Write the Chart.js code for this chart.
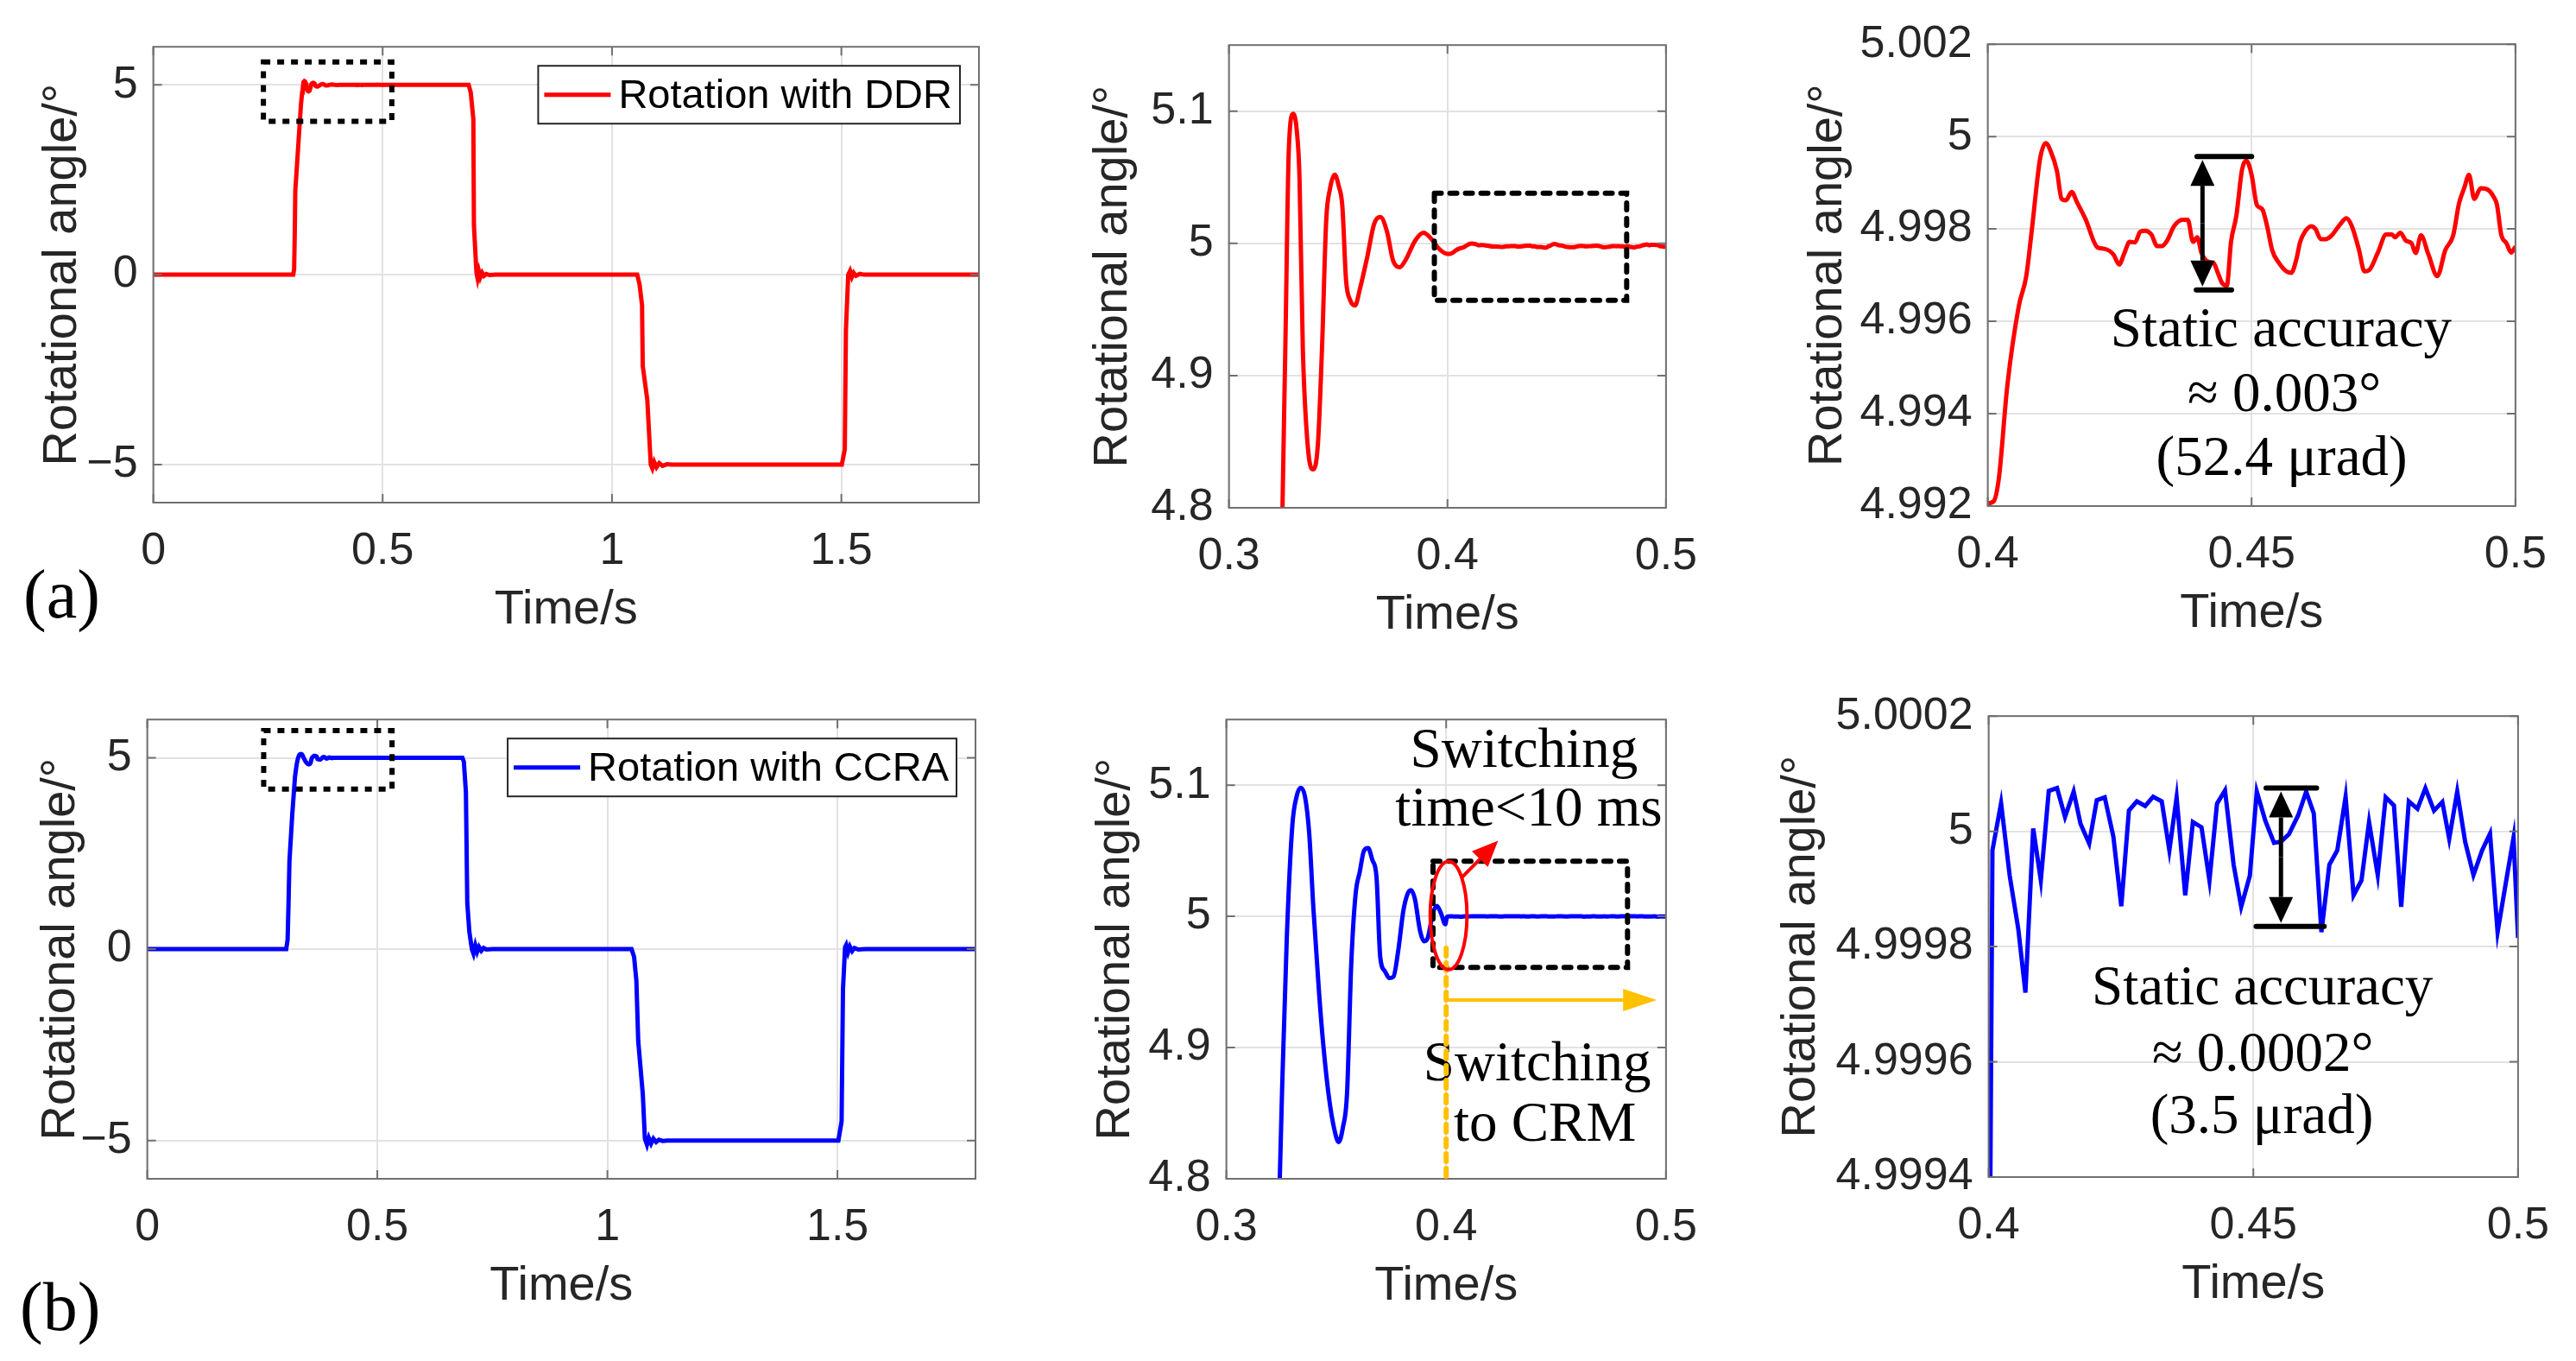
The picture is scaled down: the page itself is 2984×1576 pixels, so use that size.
<!DOCTYPE html>
<html><head><meta charset="utf-8">
<script src="https://cdn.jsdelivr.net/npm/chart.js@4.4.1/dist/chart.umd.min.js"></script>
<style>
html,body{margin:0;padding:0;background:#fff;overflow:hidden;width:2984px;height:1576px;position:relative}
canvas{position:absolute}
.lab{position:absolute;font-family:'Liberation Serif','Times New Roman',serif;font-size:80px;color:#000;line-height:1;white-space:nowrap}
</style></head><body>
<div class="lab" style="left:27px;top:648px">(a)</div>
<div class="lab" style="left:23px;top:1473px">(b)</div>
<script>
// ---------------- DATA (time [s], angle [deg]) ----------------
const ddrLead = [[0,0],[0.305,0],[0.307,0.15],[0.3085,1.2],[0.3095,2.2],[0.316,3.4],[0.322,4.5]];
const ddrTransient = [[0.3245,4.80],[0.3258,4.921],[0.3274,5.071],[0.3294,5.098],[0.3310,5.086],[0.3323,5.049],[0.3338,4.921],[0.3361,4.846],[0.3385,4.829],[0.3407,4.848],[0.3426,4.921],[0.3445,5.017],[0.3462,5.041],[0.3484,5.052],[0.3503,5.043],[0.3519,5.028],[0.3536,4.972],[0.3555,4.957],[0.3577,4.953],[0.3600,4.966],[0.3632,4.989],[0.3665,5.015],[0.3693,5.020],[0.3723,5.009],[0.3751,4.987],[0.3781,4.982],[0.3807,4.987],[0.3852,5.002],[0.3890,5.008],[0.3923,5.004],[0.3961,4.996]];
const ddrSteady = [[0.4000,4.99206],[0.4011,4.9921],[0.4021,4.9926],[0.4037,4.9946],[0.4059,4.99634],[0.4073,4.99698],[0.4084,4.99803],[0.4099,4.99951],[0.4110,4.99986],[0.4119,4.99969],[0.4131,4.99926],[0.4140,4.99865],[0.4148,4.99862],[0.4159,4.9988],[0.4169,4.99858],[0.4185,4.99822],[0.4208,4.9976],[0.4221,4.99757],[0.4238,4.99745],[0.4249,4.99723],[0.4258,4.99745],[0.4269,4.99772],[0.4279,4.99771],[0.4289,4.99794],[0.4298,4.99796],[0.4310,4.99788],[0.4321,4.99763],[0.4330,4.99763],[0.4340,4.99775],[0.4353,4.99806],[0.4369,4.9982],[0.4379,4.9982],[0.4389,4.99772],[0.4397,4.99782],[0.4405,4.99748],[0.4418,4.99729],[0.4428,4.99726],[0.4436,4.99705],[0.4444,4.99683],[0.4453,4.99677],[0.4461,4.99772],[0.4471,4.99828],[0.4482,4.99929],[0.4490,4.99948],[0.4500,4.99917],[0.4510,4.99852],[0.4520,4.99843],[0.4530,4.99803],[0.4539,4.99754],[0.4552,4.99726],[0.4566,4.99708],[0.4575,4.99705],[0.4585,4.99735],[0.4592,4.99772],[0.4601,4.99794],[0.4613,4.99806],[0.4621,4.998],[0.4631,4.99778],[0.4640,4.99778],[0.4651,4.99785],[0.4667,4.99809],[0.4680,4.99823],[0.4690,4.99806],[0.4703,4.99757],[0.4714,4.99708],[0.4723,4.99711],[0.4739,4.99748],[0.4755,4.99788],[0.4766,4.99788],[0.4772,4.99782],[0.4782,4.99792],[0.4792,4.99775],[0.4803,4.99769],[0.4811,4.99748],[0.4821,4.99786],[0.4835,4.99745],[0.4852,4.99698],[0.4867,4.99754],[0.4882,4.99786],[0.4893,4.99855],[0.4903,4.99889],[0.4912,4.99917],[0.4922,4.99865],[0.4934,4.99888],[0.4946,4.99886],[0.4958,4.99871],[0.4965,4.99852],[0.4973,4.99788],[0.4983,4.99769],[0.4992,4.99749],[0.5000,4.99761]];
const ddrTail = [[0.52,4.9985],[0.60,4.9985],[0.6875,4.999],[0.692,4.8],[0.6977,4.1],[0.699,1.3],[0.7045,0.05],[0.707,-0.1],[0.710,0.08],[0.713,-0.07],[0.717,0.05],[0.721,-0.03],[0.726,0.02],[0.733,-0.01],[0.745,0],[1.055,0],[1.060,-0.25],[1.0655,-0.8],[1.067,-2.4],[1.077,-3.3],[1.0845,-5.0],[1.088,-5.1],[1.092,-4.93],[1.097,-5.07],[1.103,-4.96],[1.110,-5.03],[1.12,-4.99],[1.13,-5],[1.501,-5],[1.5075,-4.6],[1.510,-1.45],[1.515,0.0],[1.519,0.1],[1.523,-0.06],[1.527,0.05],[1.532,-0.03],[1.54,0.02],[1.55,0],[1.8,0]];

const ccraLead = [[0,0],[0.302,0],[0.305,0.25],[0.307,1.2],[0.309,2.3],[0.315,3.5],[0.321,4.5]];
const ccraTransient = [[0.3243,4.80],[0.3255,4.876],[0.3275,4.984],[0.3300,5.069],[0.3319,5.091],[0.3338,5.098],[0.3358,5.091],[0.3377,5.063],[0.3396,5.006],[0.3422,4.941],[0.3441,4.902],[0.3466,4.863],[0.3492,4.837],[0.3511,4.828],[0.3530,4.839],[0.3549,4.865],[0.3568,4.963],[0.3588,5.017],[0.3607,5.034],[0.3626,5.050],[0.3645,5.052],[0.3664,5.043],[0.3683,5.030],[0.3700,4.969],[0.3722,4.958],[0.3741,4.953],[0.3760,4.954],[0.3782,4.974],[0.3805,5.004],[0.3824,5.017],[0.3840,5.020],[0.3858,5.013],[0.3881,4.989],[0.3900,4.981],[0.3917,4.984],[0.3939,5.002],[0.3958,5.008],[0.3977,5.002],[0.3996,4.994]];
const ccraSteady = [[0.4003,4.99935],[0.40072,4.999967],[0.40235,5.000049],[0.40398,4.999923],[0.40561,4.99983],[0.40695,4.99972],[0.40842,5.000005],[0.40986,4.999915],[0.41136,5.00007],[0.41292,5.000075],[0.41443,5.000025],[0.41606,5.000069],[0.41736,5.000013],[0.41899,4.999979],[0.42043,5.000054],[0.42193,5.000059],[0.42356,4.999991],[0.42506,4.99987],[0.4265,5.000036],[0.428,5.000052],[0.42957,5.000044],[0.43107,5.00006],[0.4327,5.000052],[0.43414,4.999967],[0.43551,5.000059],[0.43714,4.999889],[0.43858,5.000016],[0.44021,5.000007],[0.44171,4.999915],[0.44314,5.000048],[0.44465,5.000071],[0.44628,4.999942],[0.44771,4.999869],[0.44934,4.999923],[0.45065,5.000069],[0.45228,5.000018],[0.45391,4.99998],[0.45522,4.999982],[0.45672,4.999995],[0.45848,5.000028],[0.45998,5.000069],[0.46142,5.000031],[0.46286,4.999825],[0.46436,4.999942],[0.46586,4.999967],[0.46743,5.00006],[0.46893,4.999889],[0.47043,4.999915],[0.47186,5.000016],[0.4735,4.999924],[0.475,5.000059],[0.47656,5.000045],[0.47793,4.999869],[0.47937,5.000052],[0.481,5.000039],[0.4825,5.000075],[0.48413,5.000036],[0.4857,5.000051],[0.487,4.999987],[0.48851,5.000069],[0.49001,4.999982],[0.49158,4.999924],[0.49321,4.999967],[0.49471,4.999996],[0.49614,4.999825],[0.49765,4.999908],[0.49915,4.999989],[0.5,4.999815]];
const ccraTail = [[0.52,5.0],[0.685,5.0],[0.688,4.9],[0.6925,4.1],[0.6955,1.2],[0.700,0.45],[0.7055,0.0],[0.709,-0.12],[0.713,0.1],[0.717,-0.07],[0.721,0.06],[0.726,-0.04],[0.731,0.03],[0.737,-0.01],[0.75,0],[1.0525,0],[1.058,-0.2],[1.063,-0.83],[1.067,-2.4],[1.077,-3.8],[1.0815,-4.95],[1.086,-5.11],[1.090,-4.93],[1.095,-5.08],[1.100,-4.95],[1.106,-5.04],[1.112,-4.98],[1.12,-5.01],[1.13,-5],[1.502,-5],[1.509,-4.5],[1.512,-1.05],[1.5165,0.05],[1.519,0.11],[1.523,-0.08],[1.527,0.07],[1.532,-0.05],[1.537,0.03],[1.545,-0.01],[1.56,0],[1.8,0]];

// tick values and labels
const xTicksFull = [0, 0.5, 1, 1.5];       const xLabelsFull = ['0','0.5','1','1.5'];
const yTicksFull = [-5, 0, 5];             const yLabelsFull = ['\u22125','0','5'];
const xTicksMid = [0.3, 0.4, 0.5];         const xLabelsMid = ['0.3','0.4','0.5'];
const yTicksMid = [4.8, 4.9, 5, 5.1];      const yLabelsMid = ['4.8','4.9','5','5.1'];
const xTicksFine = [0.4, 0.45, 0.5];       const xLabelsFine = ['0.4','0.45','0.5'];
const yTicksDDR = [4.992, 4.994, 4.996, 4.998, 5, 5.002];
const yLabelsDDR = ['4.992','4.994','4.996','4.998','5','5.002'];
const yTicksCCRA = [4.9994, 4.9996, 4.9998, 5, 5.0002];
const yLabelsCCRA = ['4.9994','4.9996','4.9998','5','5.0002'];

// annotation anchors in data coordinates [x0, y0, x1, y1]
const ddrZoomBoxFull = [0.24, 4.04, 0.52, 5.6];
const ccraZoomBoxFull = [0.253, 4.18, 0.532, 5.71];
const ddrZoomBoxMid = [0.394, 4.957, 0.482, 5.038];
const ccraZoomBoxMid = [0.394, 4.961, 0.4825, 5.042];
const ddrAccuracyBars = {x: 0.44069, top: [0.43965, 0.45, 4.99957], bottom: [0.43952, 0.4462, 4.99668]};
const ccraAccuracyBars = {x: 0.45522, top: [0.45241, 0.46194, 5.000075], bottom: [0.45052, 0.46338, 4.999835]};

const ddrSeries = [...ddrLead, ...ddrTransient, ...ddrSteady, ...ddrTail];
const ccraSeries = [...ccraLead, ...ccraTransient, ...ccraSteady, ...ccraTail];

// ---------------- STYLE ----------------
const SANS = "'Liberation Sans', Arial, Helvetica, sans-serif";
const SERIF = "'Liberation Serif', 'Times New Roman', serif";
const INK = '#262626';
const PADT = 40, PADR = 45, XH = 158, HALF_TITLE = 33.6;

function P(chart, x, y) { return [chart.scales.x.getPixelForValue(x), chart.scales.y.getPixelForValue(y)]; }

function arrow(ctx, x0, y0, x1, y1, len, half, color, lw) {
  const a = Math.atan2(y1 - y0, x1 - x0);
  const bx = x1 - len * Math.cos(a), by = y1 - len * Math.sin(a);
  ctx.save();
  ctx.strokeStyle = color; ctx.fillStyle = color; ctx.lineWidth = lw; ctx.lineCap = 'butt';
  ctx.beginPath(); ctx.moveTo(x0, y0); ctx.lineTo(bx, by); ctx.stroke();
  ctx.beginPath(); ctx.moveTo(x1, y1);
  ctx.lineTo(bx + half * Math.sin(a), by - half * Math.cos(a));
  ctx.lineTo(bx - half * Math.sin(a), by + half * Math.cos(a));
  ctx.closePath(); ctx.fill();
  ctx.restore();
}

function dashedBox(chart, box, dash, lw, cap) {
  const ctx = chart.ctx;
  const [xa, ya] = P(chart, box[0], box[1]);
  const [xb, yb] = P(chart, box[2], box[3]);
  ctx.save();
  ctx.strokeStyle = '#000'; ctx.lineWidth = lw; ctx.setLineDash(dash); ctx.lineCap = cap;
  ctx.strokeRect(Math.min(xa, xb), Math.min(ya, yb), Math.abs(xb - xa), Math.abs(yb - ya));
  ctx.restore();
}

function serifText(chart, lines) {
  const ctx = chart.ctx;
  ctx.save();
  ctx.fillStyle = '#000'; ctx.font = '65px ' + SERIF; ctx.textAlign = 'center'; ctx.textBaseline = 'alphabetic';
  lines.forEach(l => { const [x, y] = P(chart, l[1], l[2]); ctx.fillText(l[0], x, y); });
  ctx.restore();
}

function accuracyArrow(chart, bars) {
  const ctx = chart.ctx;
  const [xs, yt] = P(chart, bars.x, bars.top[2]);
  const [, yb] = P(chart, bars.x, bars.bottom[2]);
  ctx.save();
  ctx.strokeStyle = '#000'; ctx.lineWidth = 6; ctx.lineCap = 'round';
  let [a0] = P(chart, bars.top[0], 0), [a1] = P(chart, bars.top[1], 0);
  ctx.beginPath(); ctx.moveTo(a0, yt); ctx.lineTo(a1, yt); ctx.stroke();
  [a0] = P(chart, bars.bottom[0], 0); [a1] = P(chart, bars.bottom[1], 0);
  ctx.beginPath(); ctx.moveTo(a0, yb); ctx.lineTo(a1, yb); ctx.stroke();
  ctx.restore();
  const ym = (yt + yb) / 2;
  arrow(ctx, xs, ym, xs, yt + 4, 30, 14, '#000', 5);
  arrow(ctx, xs, ym, xs, yb - 4, 30, 14, '#000', 5);
}

function drawLegend(chart) {
  const ctx = chart.ctx, a = chart.chartArea, ds = chart.data.datasets[0];
  ctx.save();
  ctx.font = '47px ' + SANS;
  const tw = ctx.measureText(ds.label).width;
  const padL = 7, lineLen = 77, gap = 9, padR = 9, h = 67;
  const w = padL + lineLen + gap + tw + padR;
  const x1 = a.right - 22, x0 = x1 - w, y0 = a.top + 22;
  ctx.fillStyle = '#fff'; ctx.fillRect(x0, y0, w, h);
  ctx.strokeStyle = INK; ctx.lineWidth = 2; ctx.strokeRect(x0, y0, w, h);
  ctx.strokeStyle = ds.borderColor; ctx.lineWidth = 5;
  ctx.beginPath(); ctx.moveTo(x0 + padL, y0 + h / 2); ctx.lineTo(x0 + padL + lineLen, y0 + h / 2); ctx.stroke();
  ctx.fillStyle = '#000'; ctx.textAlign = 'left'; ctx.textBaseline = 'middle';
  ctx.fillText(ds.label, x0 + padL + lineLen + gap, y0 + h / 2 + 2);
  ctx.restore();
}

function makeFramePlugin(panel) {
  return {
    id: 'frame',
    afterDatasetsDraw(chart) {
      const ctx = chart.ctx, a = chart.chartArea, sx = chart.scales.x, sy = chart.scales.y;
      ctx.save();
      ctx.strokeStyle = '#707070'; ctx.lineWidth = 2;
      ctx.strokeRect(a.left, a.top, a.right - a.left, a.bottom - a.top);
      const tl = 10;
      ctx.beginPath();
      sx.ticks.forEach(t => { const p = sx.getPixelForValue(t.value);
        ctx.moveTo(p, a.bottom); ctx.lineTo(p, a.bottom - tl); ctx.moveTo(p, a.top); ctx.lineTo(p, a.top + tl); });
      sy.ticks.forEach(t => { const p = sy.getPixelForValue(t.value);
        ctx.moveTo(a.left, p); ctx.lineTo(a.left + tl, p); ctx.moveTo(a.right, p); ctx.lineTo(a.right - tl, p); });
      ctx.stroke();
      ctx.restore();
      if (panel.annotate) panel.annotate(chart);
      if (panel.legend) drawLegend(chart);
    }
  };
}

// ---------------- PANELS ----------------
const panels = [
  { plot: {l:178, r:1135, t:45, b:582}, titleX: 73, xr: [0, 1.8], yr: [-6, 6],
    xt: xTicksFull, xl: xLabelsFull, yt: yTicksFull, yl: yLabelsFull,
    data: ddrSeries, color: '#ff0000', label: 'Rotation with DDR', legend: true, tension: 0,
    annotate: c => dashedBox(c, ddrZoomBoxFull, [8, 8], 6, 'butt') },
  { plot: {l:1424, r:1947, t:43, b:588}, titleX: 1290, xr: [0.3, 0.5], yr: [4.8, 5.15],
    xt: xTicksMid, xl: xLabelsMid, yt: yTicksMid, yl: yLabelsMid,
    data: ddrSeries, color: '#ff0000', label: 'Rotation with DDR', monotone: true,
    annotate: c => dashedBox(c, ddrZoomBoxMid, [8, 10], 6, 'round') },
  { plot: {l:2303, r:2931, t:42, b:586}, titleX: 2118, xr: [0.4, 0.5], yr: [4.992, 5.002],
    xt: xTicksFine, xl: xLabelsFine, yt: yTicksDDR, yl: yLabelsDDR,
    data: ddrSeries, color: '#ff0000', label: 'Rotation with DDR', monotone: true,
    annotate: c => { accuracyArrow(c, ddrAccuracyBars);
      serifText(c, [['Static accuracy', 0.4556, 4.99545], ['\u2248 0.003\u00b0', 0.4562, 4.99405], ['(52.4 \u03bcrad)', 0.4557, 4.99268]]); } },
  { plot: {l:171, r:1131, t:824, b:1365}, titleX: 71, xr: [0, 1.8], yr: [-6, 6],
    xt: xTicksFull, xl: xLabelsFull, yt: yTicksFull, yl: yLabelsFull,
    data: ccraSeries, color: '#0000ff', label: 'Rotation with CCRA', legend: true, tension: 0,
    annotate: c => dashedBox(c, ccraZoomBoxFull, [8, 8], 6, 'butt') },
  { plot: {l:1421, r:1947, t:824, b:1365}, titleX: 1293, xr: [0.3, 0.5], yr: [4.8, 5.15],
    xt: xTicksMid, xl: xLabelsMid, yt: yTicksMid, yl: yLabelsMid,
    data: ccraSeries, color: '#0000ff', label: 'Rotation with CCRA', monotone: true,
    annotate: c => {
      const ctx = c.ctx;
      dashedBox(c, ccraZoomBoxMid, [8, 10], 6, 'round');
      serifText(c, [['Switching', 0.4354, 5.1139], ['time<10 ms', 0.4376, 5.0694],
                    ['Switching', 0.4414, 4.8752], ['to CRM', 0.4449, 4.8287]]);
      const [xs, ys] = P(c, 0.4, 4.9757);
      ctx.save();
      ctx.strokeStyle = '#ffc000'; ctx.lineWidth = 6; ctx.setLineDash([9, 8]); ctx.lineCap = 'round';
      ctx.beginPath(); ctx.moveTo(xs, ys); ctx.lineTo(xs, c.chartArea.bottom); ctx.stroke();
      ctx.restore();
      const [ax0, ay] = P(c, 0.4, 4.9363), [ax1] = P(c, 0.4958, 0);
      arrow(ctx, ax0, ay, ax1, ay, 39, 13, '#ffc000', 4);
      const [ex, ey] = P(c, 0.4011, 5.0007);
      const rx = Math.abs(P(c, 0.4011 + 0.00837, 0)[0] - ex), ry = Math.abs(P(c, 0, 5.0007 + 0.0412)[1] - ey);
      ctx.save();
      ctx.strokeStyle = '#ff0000'; ctx.lineWidth = 4;
      ctx.beginPath(); ctx.ellipse(ex, ey, rx, ry, 0, 0, Math.PI * 2); ctx.stroke();
      ctx.restore();
      const [r0x, r0y] = P(c, 0.4073, 5.0299), [r1x, r1y] = P(c, 0.4236, 5.0577);
      arrow(ctx, r0x, r0y, r1x, r1y, 30, 13, '#ff0000', 4);
    } },
  { plot: {l:2304, r:2934, t:820, b:1363}, titleX: 2087, xr: [0.4, 0.5], yr: [4.9994, 5.0002],
    xt: xTicksFine, xl: xLabelsFine, yt: yTicksCCRA, yl: yLabelsCCRA,
    data: ccraSeries, color: '#0000ff', label: 'Rotation with CCRA', tension: 0,
    annotate: c => { accuracyArrow(c, ccraAccuracyBars);
      serifText(c, [['Static accuracy', 0.4517, 4.999699], ['\u2248 0.0002\u00b0', 0.4518, 4.999585], ['(3.5 \u03bcrad)', 0.4516, 4.999476]]); } }
];

panels.forEach(p => {
  const pw = p.plot.r - p.plot.l, ph = p.plot.b - p.plot.t;
  const W = p.plot.l - p.titleX + HALF_TITLE;
  const cv = document.createElement('canvas');
  cv.width = W + pw + PADR; cv.height = PADT + ph + XH;
  cv.style.left = (p.plot.l - W) + 'px'; cv.style.top = (p.plot.t - PADT) + 'px';
  cv.style.width = cv.width + 'px'; cv.style.height = cv.height + 'px';
  document.body.appendChild(cv);
  const tickFont = { family: SANS, size: 52 };
  const titleFont = { family: SANS, size: 56 };
  new Chart(cv, {
    type: 'line',
    data: { datasets: [{
      label: p.label,
      data: p.data.map(d => ({ x: d[0], y: d[1] })),
      borderColor: p.color, borderWidth: 5, pointRadius: 0, fill: false,
      tension: p.tension || 0, cubicInterpolationMode: p.monotone ? 'monotone' : 'default',
      clip: 0
    }] },
    options: {
      responsive: false, animation: false, devicePixelRatio: 1, events: [],
      layout: { padding: { top: PADT, right: PADR, left: 0, bottom: 0 } },
      plugins: { legend: { display: false }, tooltip: { enabled: false } },
      scales: {
        x: { type: 'linear', min: p.xr[0], max: p.xr[1],
          afterFit: s => { s.height = XH; },
          afterBuildTicks: s => { s.ticks = p.xt.map(v => ({ value: v })); },
          ticks: { padding: 25, color: INK, font: tickFont, maxRotation: 0, autoSkip: false,
                   callback: (v, i) => p.xl[i] },
          grid: { color: '#e2e2e2', lineWidth: 2, drawTicks: false },
          border: { display: false },
          title: { display: true, text: 'Time/s', color: INK, font: titleFont, padding: 0 } },
        y: { type: 'linear', min: p.yr[0], max: p.yr[1],
          afterFit: s => { s.width = W; },
          afterBuildTicks: s => { s.ticks = p.yt.map(v => ({ value: v })); },
          ticks: { padding: 18, color: INK, font: tickFont, autoSkip: false,
                   callback: (v, i) => p.yl[i] },
          grid: { color: '#e2e2e2', lineWidth: 2, drawTicks: false },
          border: { display: false },
          title: { display: true, text: 'Rotational angle/\u00b0', color: INK, font: titleFont, padding: 0 } }
      }
    },
    plugins: [makeFramePlugin(p)]
  });
});
</script>
</body></html>
